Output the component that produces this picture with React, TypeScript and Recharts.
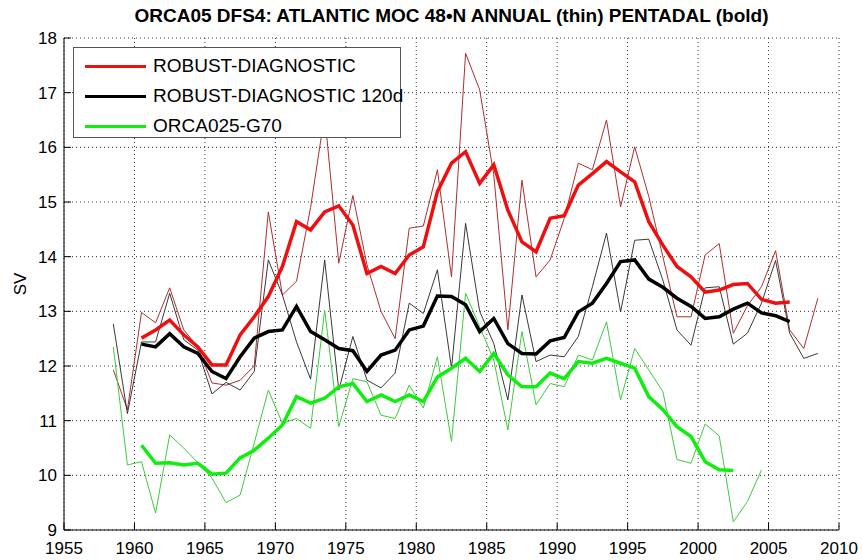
import { CartesianGrid, Line, LineChart, XAxis, YAxis } from "recharts";

// annual values, 1958.5 .. 2008.5 (green stops at 2004.5)
const redAnnual = [
    11.93, 11.2, 12.98, 12.79, 13.43, 12.66, 12.35, 11.69, 11.65, 11.74, 12.0,
    14.82, 13.3, 13.55, 14.9, 16.6, 13.88, 15.12, 13.85, 13.0, 12.5, 14.52,
    14.56, 15.59, 13.63, 17.72, 17.05, 15.5, 12.66, 15.4, 13.63, 13.94, 14.7,
    15.71, 15.59, 16.5, 14.91, 16.01, 15.1, 14.0, 12.9, 12.9, 14.03, 14.24,
    12.6, 13.1, 13.45, 14.11, 12.66, 12.32, 13.24,
];
const blackAnnual = [
    12.77, 11.13, 12.44, 12.44, 13.33, 12.48, 12.29, 11.49, 11.7, 11.56, 11.9,
    13.94, 13.3, 12.44, 11.76, 13.94, 11.56, 12.54, 11.74, 11.6, 11.87, 13.15,
    12.96, 13.76, 11.96, 14.61, 13.0, 12.41, 11.38, 13.3, 12.08, 12.2, 12.17,
    12.54, 13.45, 14.43, 12.99, 14.3, 14.32, 13.57, 12.66, 12.38, 13.43, 13.45,
    12.4, 12.6, 13.15, 13.93, 12.6, 12.14, 12.23,
];
const greenAnnual = [
    12.35, 10.19, 10.25, 9.31, 10.74, 10.5, 10.23, 9.95, 9.5, 9.64, 10.59,
    11.56, 10.95, 11.04, 10.86, 13.02, 10.89, 11.77, 11.71, 11.1, 11.04, 11.65,
    11.23, 12.17, 10.62, 13.33, 12.72, 12.11, 10.83, 12.63, 11.29, 11.68, 11.62,
    12.2, 12.11, 12.81, 11.38, 12.32, 11.93, 11.53, 10.29, 10.22, 10.94, 10.72,
    9.15, 9.52, 10.1,
];

// pentadal values, 1960.5 .. 2006.5 (green stops at 2002.5)
const redPentadal = [
    12.51, 12.66, 12.84, 12.57, 12.35, 12.02, 12.02, 12.57, 12.9, 13.27, 13.82,
    14.64, 14.49, 14.82, 14.93, 14.58, 13.69, 13.82, 13.69, 14.03, 14.18, 15.19,
    15.71, 15.92, 15.34, 15.68, 14.85, 14.27, 14.09, 14.7, 14.75, 15.31, 15.52,
    15.74, 15.55, 15.37, 14.64, 14.21, 13.82, 13.63, 13.35, 13.39, 13.49, 13.51,
    13.22, 13.15, 13.17,
];
const blackPentadal = [
    12.4, 12.35, 12.59, 12.35, 12.23, 11.9, 11.77, 12.17, 12.51, 12.63, 12.66,
    13.09, 12.63, 12.48, 12.32, 12.28, 11.9, 12.2, 12.29, 12.66, 12.73, 13.28,
    13.27, 13.12, 12.63, 12.87, 12.41, 12.23, 12.22, 12.46, 12.52, 12.99, 13.15,
    13.51, 13.91, 13.94, 13.59, 13.44, 13.24, 13.09, 12.87, 12.9, 13.04, 13.15,
    12.97, 12.92, 12.81,
];
const greenPentadal = [
    10.55, 10.22, 10.23, 10.19, 10.22, 10.02, 10.04, 10.32, 10.46, 10.68, 10.92,
    11.44, 11.32, 11.41, 11.62, 11.68, 11.35, 11.47, 11.35, 11.47, 11.35, 11.8,
    11.96, 12.14, 11.9, 12.23, 11.84, 11.62, 11.62, 11.87, 11.77, 12.08, 12.05,
    12.14, 12.05, 11.96, 11.44, 11.2, 10.89, 10.71, 10.25, 10.1, 10.09,
];

const xTicks = [1955, 1960, 1965, 1970, 1975, 1980, 1985, 1990, 1995, 2000, 2005, 2010];
const yTicks = [9, 10, 11, 12, 13, 14, 15, 16, 17, 18];

const legendItems = [
    { name: "ROBUST-DIAGNOSTIC", color: "#ee1010" },
    { name: "ROBUST-DIAGNOSTIC 120d", color: "#000000" },
    { name: "ORCA025-G70", color: "#10ee10" },
];

const data = redAnnual.map((v, i) => ({
    year: 1958.5 + i,
    redA: v,
    blackA: blackAnnual[i],
    greenA: greenAnnual[i] ?? null,
    redP: i >= 2 ? redPentadal[i - 2] ?? null : null,
    blackP: i >= 2 ? blackPentadal[i - 2] ?? null : null,
    greenP: i >= 2 ? greenPentadal[i - 2] ?? null : null,
}));

const font = "'Liberation Sans', Arial, sans-serif";

// legend box sits on top of the plot, upper left
const LegendBox = () => (
    <div
        style={{
            position: "absolute",
            left: 73,
            top: 47,
            width: 326,
            height: 89,
            border: "1px solid #555",
            background: "#fff",
            fontFamily: font,
            fontSize: 19,
            color: "#000",
        }}
    >
        {legendItems.map((item, idx) => (
            <div
                key={item.name}
                style={{
                    position: "absolute",
                    left: 11,
                    top: 6 + idx * 30,
                    height: 24,
                    display: "flex",
                    alignItems: "center",
                    whiteSpace: "nowrap",
                }}
            >
                <div style={{ width: 61, height: 3, background: item.color }} />
                <div style={{ marginLeft: 7, lineHeight: "24px" }}>{item.name}</div>
            </div>
        ))}
    </div>
);

export default function App() {
    return (
        <div style={{ position: "absolute", left: 0, top: 0, width: 862, height: 560, background: "#fff", overflow: "hidden" }}>
            <div
                style={{
                    position: "absolute",
                    left: 64,
                    top: 5,
                    width: 775,
                    textAlign: "center",
                    fontFamily: font,
                    fontWeight: "bold",
                    fontSize: 19,
                    color: "#000",
                }}
            >
                ORCA05 DFS4: ATLANTIC MOC 48•N ANNUAL (thin) PENTADAL (bold)
            </div>
            <LineChart
                width={862}
                height={560}
                data={data}
                margin={{ top: 38, right: 23, left: 0, bottom: 0 }}
            >
                <CartesianGrid stroke="#333" strokeDasharray="1 3" />
                <XAxis
                    dataKey="year"
                    type="number"
                    domain={[1955, 2010]}
                    ticks={xTicks}
                    height={30}
                    stroke="#000"
                    tickSize={-7}
                    tickMargin={19}
                    tick={{ fill: "#000", fontSize: 17, fontFamily: font }}
                    interval={0}
                    allowDataOverflow
                />
                <XAxis
                    xAxisId="top"
                    dataKey="year"
                    type="number"
                    domain={[1955, 2010]}
                    ticks={xTicks}
                    orientation="top"
                    height={0}
                    stroke="#000"
                    tickSize={-7}
                    tick={false}
                    interval={0}
                />
                <YAxis
                    type="number"
                    domain={[9, 18]}
                    ticks={yTicks}
                    width={64}
                    stroke="#000"
                    tickSize={-7}
                    tickMargin={14}
                    tick={{ fill: "#000", fontSize: 17, fontFamily: font }}
                    interval={0}
                    label={{
                        content: ({ viewBox }: any) => {
                            const cy = viewBox.y + viewBox.height / 2;
                            return (
                                <text
                                    x={26}
                                    y={cy}
                                    transform={`rotate(-90 26 ${cy})`}
                                    textAnchor="middle"
                                    fontSize={17}
                                    fontFamily={font}
                                    fill="#000"
                                >
                                    SV
                                </text>
                            );
                        },
                    }}
                />
                <YAxis
                    yAxisId="right"
                    type="number"
                    domain={[9, 18]}
                    ticks={yTicks}
                    orientation="right"
                    width={0}
                    stroke="#000"
                    tickSize={-7}
                    tick={false}
                    interval={0}
                />
                <Line dataKey="redA" stroke="#b02e2e" strokeWidth={1} dot={false} isAnimationActive={false} />
                <Line dataKey="blackA" stroke="#222" strokeWidth={0.9} dot={false} isAnimationActive={false} />
                <Line dataKey="greenA" stroke="#3ccc3c" strokeWidth={1} dot={false} isAnimationActive={false} />
                <Line dataKey="redP" stroke="#ee1010" strokeWidth={3.5} dot={false} isAnimationActive={false} />
                <Line dataKey="blackP" stroke="#000" strokeWidth={3.5} dot={false} isAnimationActive={false} />
                <Line dataKey="greenP" stroke="#10ee10" strokeWidth={3.5} dot={false} isAnimationActive={false} />
            </LineChart>
            <LegendBox />
        </div>
    );
}
